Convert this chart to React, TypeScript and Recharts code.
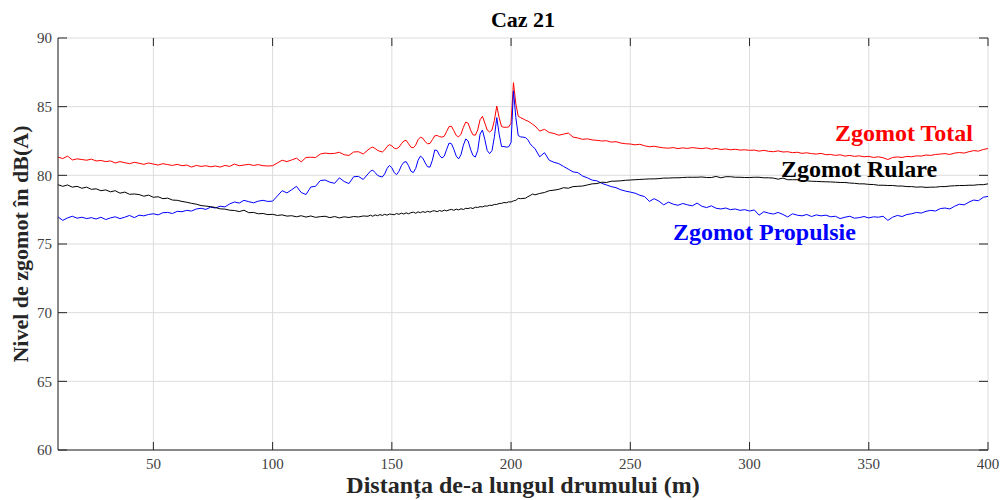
import React from 'react';
import { LineChart, Line, XAxis, YAxis, CartesianGrid, Customized } from 'recharts';

// distanța (m) – pas de 2 m, cu pas de 1 m în zona vârfurilor
const distA = [
  10, 12, 14, 16, 18, 20, 22, 24, 26, 28,
  30, 32, 34, 36, 38, 40, 42, 44, 46, 48,
  50, 52, 54, 56, 58, 60, 62, 64, 66, 68,
  70, 72, 74, 76, 78, 80, 82, 84, 86, 88,
  90, 92, 94, 96, 98, 100, 102, 104, 106, 108,
  110, 112, 114, 116, 118, 120, 122, 124, 126, 128,
  130, 132, 134, 136, 138, 140,
];
const distB = [
  141, 142, 143, 144, 145, 146, 147, 148, 149, 150,
  151, 152, 153, 154, 155, 156, 157, 158, 159, 160,
  161, 162, 163, 164, 165, 166, 167, 168, 169, 170,
  171, 172, 173, 174, 175, 176, 177, 178, 179, 180,
  181, 182, 183, 184, 185, 186, 187, 188, 189, 190,
  191, 192, 193, 194, 195, 196, 197, 198, 199, 200,
  201, 202, 203, 204, 205, 206, 207, 208, 209, 210,
];
const distC = [
  212, 214, 216, 218, 220, 222, 224, 226, 228, 230,
  232, 234, 236, 238, 240, 242, 244, 246, 248, 250,
  252, 254, 256, 258, 260, 262, 264, 266, 268, 270,
  272, 274, 276, 278, 280, 282, 284, 286, 288, 290,
  292, 294, 296, 298, 300, 302, 304, 306, 308, 310,
  312, 314, 316, 318, 320, 322, 324, 326, 328, 330,
  332, 334, 336, 338, 340, 342, 344, 346, 348, 350,
  352, 354, 356, 358, 360, 362, 364, 366, 368, 370,
  372, 374, 376, 378, 380, 382, 384, 386, 388, 390,
  392, 394, 396, 398, 400,
];

// Zgomot Total (rosu)
const totalA = [
  81.33, 81.22, 81.4, 81.12, 81.2, 81.15, 81.1, 81.18, 81.05, 81.08,
  81.0, 81.05, 80.9, 81.0, 80.92, 80.85, 80.95, 80.88, 80.8, 80.9,
  80.82, 80.75, 80.85, 80.78, 80.72, 80.8, 80.7, 80.75, 80.6, 80.72,
  80.65, 80.7, 80.62, 80.68, 80.6, 80.72, 80.65, 80.82, 80.7, 80.75,
  80.8, 80.72, 80.78, 80.7, 80.68, 80.7, 80.9, 81.1, 81.0, 81.12,
  81.25, 80.98, 81.3, 81.32, 81.3, 81.55, 81.62, 81.58, 81.6, 81.68,
  81.5, 81.45, 81.7, 81.72, 81.55, 81.85,
];
const totalB = [
  81.98, 82.06, 81.95, 81.82, 81.75, 81.7, 81.85, 82.1, 82.23, 82.15,
  81.98, 81.94, 82.05, 82.3, 82.5, 82.55, 82.3, 82.05, 82.0, 82.2,
  82.6, 82.78, 82.7, 82.45, 82.3, 82.32, 82.6, 82.88, 82.9, 82.82,
  82.78, 82.85, 83.2, 83.55, 83.58, 83.25, 82.9, 82.8, 83.0, 83.5,
  83.88, 83.8, 83.3, 82.95, 82.92, 83.3, 84.05, 84.3, 83.8, 83.3,
  83.15, 83.3, 84.0, 85.05, 84.2, 83.55, 83.5, 83.5, 83.52, 83.8,
  86.75, 85.2, 84.3, 84.2, 84.12, 84.02, 83.95, 83.85, 83.72, 83.6,
];
const totalC = [
  83.22, 83.35, 83.12, 83.05, 82.92, 83.0, 83.08, 82.78, 82.72, 82.62,
  82.66, 82.58, 82.55, 82.5, 82.52, 82.42, 82.45, 82.35, 82.3, 82.28,
  82.22, 82.26, 82.15, 82.08, 82.12, 82.05, 82.0, 81.98, 82.02, 81.95,
  82.0, 81.96, 82.02, 81.98, 81.94, 82.0, 81.9, 81.96, 81.88, 81.92,
  81.86, 81.9, 81.84, 81.86, 81.82, 81.84, 81.76, 81.82, 81.75, 81.72,
  81.78, 81.7, 81.72, 81.65, 81.68, 81.6, 81.64, 81.58, 81.55, 81.6,
  81.5, 81.52, 81.45, 81.5, 81.4, 81.45, 81.38, 81.42, 81.35, 81.38,
  81.3, 81.35, 81.28, 81.15, 81.3, 81.34, 81.3, 81.38, 81.35, 81.42,
  81.4, 81.48, 81.45, 81.52, 81.55, 81.58, 81.52, 81.62, 81.66, 81.62,
  81.72, 81.8, 81.76, 81.88, 81.95,
];

// Zgomot Rulare (negru)
const rulareA = [
  79.32, 79.2, 79.3, 79.14, 79.2, 79.06, 79.14, 78.98, 79.02, 78.88,
  78.94, 78.8, 78.88, 78.7, 78.78, 78.62, 78.64, 78.6, 78.48, 78.56,
  78.4, 78.44, 78.3, 78.34, 78.2, 78.18, 78.1, 78.04, 77.96, 77.9,
  77.8, 77.76, 77.72, 77.66, 77.56, 77.54, 77.46, 77.44, 77.36, 77.46,
  77.28, 77.3, 77.2, 77.22, 77.14, 77.16, 77.08, 77.12, 77.03, 77.06,
  76.98, 77.06, 76.96, 77.04, 76.94, 76.99, 77.02, 76.92, 77.0, 76.9,
  76.98, 76.93, 77.0, 76.97, 77.04, 77.02,
];
const rulareB = [
  77.1, 77.02, 77.12, 77.06, 77.14, 77.08, 77.16, 77.1, 77.18, 77.16,
  77.13, 77.22, 77.16, 77.25, 77.18, 77.27, 77.2, 77.28, 77.32, 77.24,
  77.34, 77.28, 77.36, 77.3, 77.38, 77.32, 77.4, 77.42, 77.35, 77.44,
  77.38, 77.47, 77.41, 77.48, 77.52, 77.45, 77.54, 77.48, 77.57, 77.51,
  77.6, 77.58, 77.64, 77.58, 77.68, 77.66, 77.72, 77.7, 77.77, 77.76,
  77.82, 77.81, 77.88, 77.88, 77.95, 77.96, 78.02, 78.0, 78.07, 78.06,
  78.14, 78.18, 78.32, 78.3, 78.32, 78.33, 78.44, 78.53, 78.64, 78.58,
];
const rulareC = [
  78.68, 78.75, 78.88, 78.92, 78.98, 79.1, 79.06, 79.18, 79.2, 79.22,
  79.3, 79.38, 79.4, 79.5, 79.48, 79.57, 79.58, 79.6, 79.64, 79.66,
  79.68, 79.7, 79.72, 79.74, 79.74, 79.76, 79.8, 79.8, 79.82, 79.82,
  79.84, 79.86, 79.86, 79.86, 79.88, 79.84, 79.84, 79.92, 79.82, 79.9,
  79.9, 79.86, 79.86, 79.84, 79.84, 79.86, 79.86, 79.82, 79.82, 79.8,
  79.72, 79.8, 79.68, 79.68, 79.68, 79.62, 79.6, 79.57, 79.56, 79.54,
  79.53, 79.52, 79.5, 79.48, 79.48, 79.44, 79.42, 79.38, 79.38, 79.34,
  79.33, 79.28, 79.28, 79.26, 79.26, 79.22, 79.22, 79.18, 79.18, 79.14,
  79.16, 79.12, 79.14, 79.14, 79.18, 79.18, 79.22, 79.24, 79.26, 79.26,
  79.28, 79.28, 79.32, 79.32, 79.38,
];

// Zgomot Propulsie (albastru)
const propulsieA = [
  76.97, 76.72, 76.9, 77.02, 76.88, 76.95, 76.85, 76.92, 76.82, 76.95,
  76.78, 76.9, 76.98, 76.85, 76.95, 77.08, 76.92, 77.1, 77.05, 77.15,
  77.2, 77.12, 77.28, 77.3, 77.22, 77.38, 77.35, 77.45, 77.4, 77.55,
  77.6, 77.52, 77.68, 77.62, 77.75, 77.7, 77.92, 78.06, 77.98, 78.18,
  78.08, 78.0, 78.12, 78.18, 78.1, 78.12, 78.5, 78.88, 78.72, 78.95,
  79.2, 78.75, 78.6, 79.15, 79.2, 79.62, 79.66, 79.5, 79.42, 79.82,
  79.55, 79.4, 79.9, 79.92, 79.7, 80.1,
];
const propulsieB = [
  80.3, 80.38, 80.2, 80.0, 79.92, 79.88, 80.1, 80.5, 80.72, 80.55,
  80.2, 80.05, 80.3, 80.7, 80.95, 81.0, 80.7, 80.3, 80.2, 80.5,
  81.1, 81.4, 81.25, 80.9, 80.62, 80.6, 81.1, 81.85, 81.8, 81.45,
  81.26, 81.4, 81.9, 82.35, 82.3, 81.9, 81.4, 81.2, 81.5, 82.2,
  82.65, 82.5, 81.9, 81.45, 81.33, 81.8, 83.0, 83.3, 82.6, 81.8,
  81.58, 81.8, 82.8, 84.2, 83.0, 82.1, 82.1, 82.05, 82.08, 82.4,
  86.15, 84.2, 82.9, 82.8, 82.78, 82.75, 82.6, 82.3, 82.1, 81.95,
];
const propulsieC = [
  81.35, 81.65, 81.1, 80.95, 80.85, 80.65, 80.45, 80.25, 80.2, 79.95,
  79.82, 79.65, 79.6, 79.42, 79.3, 79.18, 79.1, 78.95, 78.85, 78.78,
  78.7, 78.55, 78.45, 78.1, 78.3, 78.12, 77.85, 78.05, 77.9, 77.82,
  77.95, 77.85, 77.78, 77.98, 77.75, 77.65, 77.78, 77.6, 77.55, 77.62,
  77.5, 77.55, 77.45, 77.5, 77.4, 77.48, 77.1, 77.35, 77.25, 77.18,
  77.3, 77.15, 76.97, 77.2, 77.1, 77.05, 77.15, 77.0, 77.12, 77.05,
  77.1, 76.98, 77.02, 76.85, 76.95, 77.02, 76.88, 76.92, 77.0, 76.9,
  76.98, 76.95, 77.02, 76.72, 76.95, 77.08, 77.0, 77.15, 77.2, 77.3,
  77.25, 77.38, 77.45, 77.4, 77.58, 77.62, 77.55, 77.75, 77.9, 77.85,
  78.05, 78.2, 78.15, 78.4, 78.47,
];

const xTicks = [50, 100, 150, 200, 250, 300, 350, 400];
const yTicks = [60, 65, 70, 75, 80, 85, 90];

const distances = [...distA, ...distB, ...distC];
const total = [...totalA, ...totalB, ...totalC];
const rulare = [...rulareA, ...rulareB, ...rulareC];
const propulsie = [...propulsieA, ...propulsieB, ...propulsieC];

const rows = distances.map((d, i) => ({
  d,
  total: total[i],
  rulare: rulare[i],
  propulsie: propulsie[i],
}));

const FONT = '"Liberation Serif", "Times New Roman", serif';
const AXIS = '#262626';
const LABEL = '#404040';

// geometria zonei de desen (aceeasi ca margin + latimea axelor de mai jos)
const W = 1002;
const H = 500;
const M = { top: 38, right: 14, bottom: 20, left: 0 };
const Y_AXIS_W = 58;
const X_AXIS_H = 30;
const plot = {
  left: M.left + Y_AXIS_W,
  right: W - M.right,
  top: M.top,
  bottom: H - M.bottom - X_AXIS_H,
};
const xDomain: [number, number] = [10, 400];
const yDomain: [number, number] = [60, 90];
const px = (v: number) => plot.left + ((v - xDomain[0]) / (xDomain[1] - xDomain[0])) * (plot.right - plot.left);
const py = (v: number) => plot.bottom - ((v - yDomain[0]) / (yDomain[1] - yDomain[0])) * (plot.bottom - plot.top);

// taieturi spre interior, pe toate cele patru laturi (stil MATLAB)
const InnerTicks = () => (
  <g stroke={AXIS} strokeWidth={1}>
    {xTicks.map((t) => (
      <g key={`x${t}`}>
        <line x1={px(t)} x2={px(t)} y1={plot.bottom} y2={plot.bottom - 8} />
        <line x1={px(t)} x2={px(t)} y1={plot.top} y2={plot.top + 8} />
      </g>
    ))}
    {yTicks.map((t) => (
      <g key={`y${t}`}>
        <line x1={plot.left} x2={plot.left + 9} y1={py(t)} y2={py(t)} />
        <line x1={plot.right} x2={plot.right - 9} y1={py(t)} y2={py(t)} />
      </g>
    ))}
  </g>
);

const Annotations = () => (
  <g fontFamily={FONT} fontWeight="bold">
    <InnerTicks />
    <text x={523} y={27} textAnchor="middle" fontSize={22} fill="#000">Caz 21</text>
    <text x={523} y={493} textAnchor="middle" fontSize={24} fill={AXIS}>
      Distanța de-a lungul drumului (m)
    </text>
    <text x={28} y={244} textAnchor="middle" fontSize={22} fill={AXIS} transform="rotate(-90 28 244)">
      Nivel de zgomot în dB(A)
    </text>
    <text x={835} y={141} fontSize={24} fill="#ff0000">Zgomot Total</text>
    <text x={781} y={177} fontSize={24} fill="#000000">Zgomot Rulare</text>
    <text x={673} y={240} fontSize={24} fill="#0000ff">Zgomot Propulsie</text>
  </g>
);

const tickStyle = { fill: LABEL, fontSize: 15, fontFamily: FONT };

export default function App() {
  return (
    <div style={{ position: 'absolute', left: 0, top: 0, width: W, height: H, background: '#fff' }}>
      <LineChart width={W} height={H} data={rows} margin={M}>
        <CartesianGrid stroke="#dcdcdc" strokeWidth={1} fill="none" />
        <XAxis
          dataKey="d"
          type="number"
          domain={xDomain}
          ticks={xTicks}
          allowDataOverflow
          height={X_AXIS_H}
          stroke={AXIS}
          tickLine={false}
          tickSize={0}
          tickMargin={8}
          tick={tickStyle}
        />
        <XAxis
          xAxisId="top"
          orientation="top"
          dataKey="d"
          type="number"
          domain={xDomain}
          ticks={xTicks}
          allowDataOverflow
          height={0}
          stroke={AXIS}
          tickLine={false}
          tick={false}
        />
        <YAxis
          type="number"
          domain={yDomain}
          ticks={yTicks}
          allowDataOverflow
          width={Y_AXIS_W}
          stroke={AXIS}
          tickLine={false}
          tickSize={0}
          tickMargin={6}
          tick={tickStyle}
        />
        <YAxis
          yAxisId="right"
          orientation="right"
          type="number"
          domain={yDomain}
          ticks={yTicks}
          allowDataOverflow
          width={0}
          stroke={AXIS}
          tickLine={false}
          tick={false}
        />
        <Line dataKey="total" stroke="#ff0000" strokeWidth={1} dot={false} isAnimationActive={false} />
        <Line dataKey="propulsie" stroke="#0000ff" strokeWidth={1} dot={false} isAnimationActive={false} />
        <Line dataKey="rulare" stroke="#000000" strokeWidth={1} dot={false} isAnimationActive={false} />
        <Customized component={Annotations} />
      </LineChart>
    </div>
  );
}
